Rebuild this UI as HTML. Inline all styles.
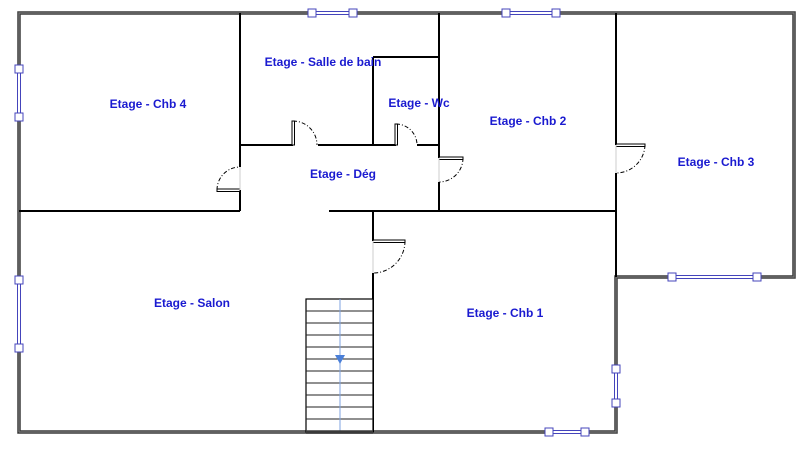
<!DOCTYPE html>
<html><head><style>
html,body{margin:0;padding:0;background:#fff;}
svg{display:block;}
text{font-family:"Liberation Sans",sans-serif;font-weight:bold;font-size:12px;fill:#1a1ad0;text-anchor:middle;}
</style></head><body>
<svg width="802" height="457" viewBox="0 0 802 457" xmlns="http://www.w3.org/2000/svg">
<rect width="802" height="457" fill="#fff"/>
<!-- outer walls -->
<g stroke="#3a3a3a" stroke-width="3.5" fill="none" stroke-linecap="square">
<polyline points="19,432 19,13 794,13 794,277 616,277 616,432 19,432"/>
</g>
<g stroke="#777" stroke-width="1.2" fill="none">
<polyline points="19,432 19,13 794,13 794,277 616,277 616,432 19,432"/>
</g>
<!-- interior walls -->
<g stroke="#000" stroke-width="2" fill="none">
<line x1="240" y1="13" x2="240" y2="167"/>
<line x1="240" y1="190" x2="240" y2="211"/>
<line x1="19" y1="211" x2="240" y2="211"/>
<line x1="240" y1="145" x2="293" y2="145"/>
<line x1="318" y1="145" x2="396" y2="145"/>
<line x1="417" y1="145" x2="439" y2="145"/>
<line x1="373" y1="57" x2="373" y2="145"/>
<line x1="373" y1="57" x2="439" y2="57"/>
<line x1="439" y1="13" x2="439" y2="158"/>
<line x1="439" y1="182" x2="439" y2="211"/>
<line x1="329" y1="211" x2="616" y2="211"/>
<line x1="616" y1="13" x2="616" y2="145"/>
<line x1="616" y1="173" x2="616" y2="277"/>
<line x1="373" y1="211" x2="373" y2="241"/>
<line x1="373" y1="273" x2="373" y2="432"/>
</g>
<!-- doors -->
<g stroke="#000" stroke-width="1" fill="#fff">
<rect x="217" y="189" width="23" height="2.5"/>
<rect x="292" y="121" width="2.5" height="24"/>
<rect x="395" y="124" width="2.5" height="21"/>
<rect x="439" y="157" width="24" height="2.5"/>
<rect x="616" y="144" width="29" height="2.5"/>
<rect x="373" y="240" width="32" height="2.5"/>
</g>
<g stroke="#000" stroke-width="1" fill="none" stroke-dasharray="4,2,1,2">
<path d="M217,190 A23,23 0 0 1 240,167"/>
<path d="M293,121 A24,24 0 0 1 317,145"/>
<path d="M396,124 A21,21 0 0 1 417,145"/>
<path d="M463,158 A24,24 0 0 1 439,182"/>
<path d="M645,145 A29,29 0 0 1 616,173"/>
<path d="M405,241 A32,32 0 0 1 373,273"/>
</g>
<g stroke="#ccc" stroke-width="1">
<line x1="240" y1="167" x2="240" y2="190"/>
<line x1="439" y1="158" x2="439" y2="182"/>
<line x1="616" y1="145" x2="616" y2="173"/>
<line x1="373" y1="241" x2="373" y2="273"/>
</g>
<!-- stairs -->
<g stroke="#000" stroke-width="1.2" fill="#fff">
<rect x="306" y="299" width="67" height="133"/>
</g>
<g stroke="#222" stroke-width="1">
<line x1="306" y1="311" x2="373" y2="311"/><line x1="306" y1="323" x2="373" y2="323"/>
<line x1="306" y1="335" x2="373" y2="335"/><line x1="306" y1="347" x2="373" y2="347"/>
<line x1="306" y1="359" x2="373" y2="359"/><line x1="306" y1="371" x2="373" y2="371"/>
<line x1="306" y1="383" x2="373" y2="383"/><line x1="306" y1="395" x2="373" y2="395"/>
<line x1="306" y1="407" x2="373" y2="407"/><line x1="306" y1="419" x2="373" y2="419"/>
</g>
<line x1="340" y1="299" x2="340" y2="432" stroke="#7fa3e0" stroke-width="1"/>
<polygon points="335,355 345,355 340,364" fill="#4a7fd8"/>
<line x1="306" y1="432" x2="373" y2="432" stroke="#3a3a3a" stroke-width="3.5"/>
<!-- windows -->
<g stroke="#4444bb" stroke-width="1" fill="#fff">
<rect x="312" y="11.5" width="41" height="3"/>
<rect x="506" y="11.5" width="50" height="3"/>
<rect x="17.5" y="69" width="3" height="48"/>
<rect x="17.5" y="280" width="3" height="68"/>
<rect x="672" y="275.5" width="85" height="3"/>
<rect x="614.5" y="369" width="3" height="34"/>
<rect x="549" y="430.5" width="36" height="3"/>
<rect x="308" y="9" width="8" height="8"/><rect x="349" y="9" width="8" height="8"/>
<rect x="502" y="9" width="8" height="8"/><rect x="552" y="9" width="8" height="8"/>
<rect x="15" y="65" width="8" height="8"/><rect x="15" y="113" width="8" height="8"/>
<rect x="15" y="276" width="8" height="8"/><rect x="15" y="344" width="8" height="8"/>
<rect x="668" y="273" width="8" height="8"/><rect x="753" y="273" width="8" height="8"/>
<rect x="612" y="365" width="8" height="8"/><rect x="612" y="399" width="8" height="8"/>
<rect x="545" y="428" width="8" height="8"/><rect x="581" y="428" width="8" height="8"/>
</g>
<!-- labels -->
<text x="148" y="108">Etage - Chb 4</text>
<text x="323" y="66">Etage - Salle de bain</text>
<text x="419" y="107">Etage - Wc</text>
<text x="528" y="125">Etage - Chb 2</text>
<text x="716" y="166">Etage - Chb 3</text>
<text x="343" y="178">Etage - Dég</text>
<text x="192" y="307">Etage - Salon</text>
<text x="505" y="317">Etage - Chb 1</text>
</svg>
</body></html>
